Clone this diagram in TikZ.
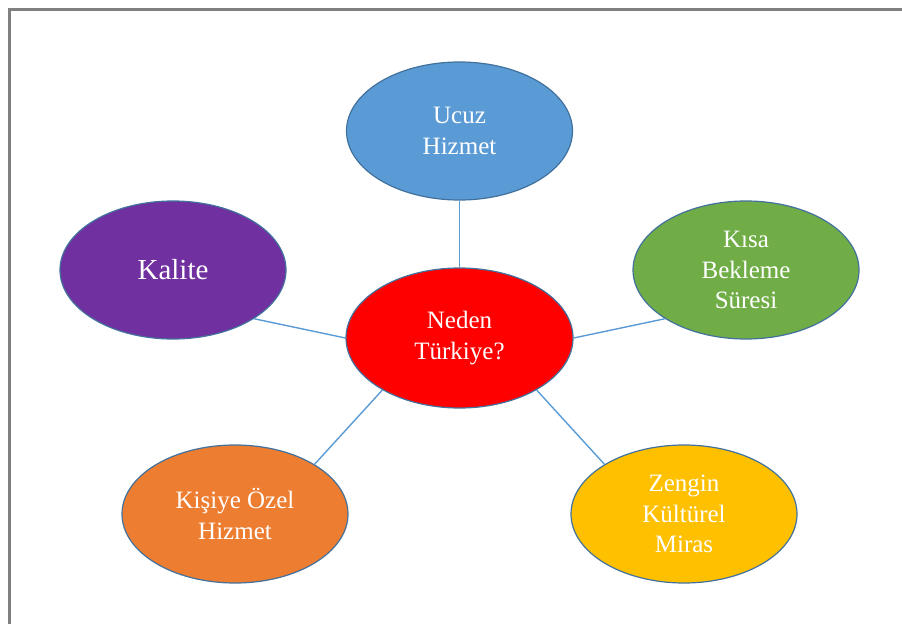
\documentclass[tikz,border=0pt]{standalone}
\usepackage{fontspec}
\setmainfont{Liberation Serif}
\usetikzlibrary{shapes.geometric}

\definecolor{bubbleblue}{HTML}{5B9BD5}
\definecolor{bubblegreen}{HTML}{70AD47}
\definecolor{bubblepurple}{HTML}{7030A0}
\definecolor{bubblered}{HTML}{FF0000}
\definecolor{bubbleorange}{HTML}{ED7D31}
\definecolor{bubbleyellow}{HTML}{FFC000}
\definecolor{bubbleedge}{HTML}{41719C}

\begin{document}
\begin{tikzpicture}[x=1pt,y=-1pt]
        \tikzset{
            style bubble/.style={ellipse,draw=bubbleedge,line width=1.2pt,text=white,
                minimum width=226pt,minimum height=138pt,inner sep=0pt,align=center,
                font=\fontsize{25}{30.5}\selectfont},
            style blue/.style={style bubble,fill=bubbleblue},
            style green/.style={style bubble,fill=bubblegreen},
            style purple/.style={style bubble,fill=bubblepurple,font=\fontsize{29}{34}\selectfont},
            style red/.style={style bubble,fill=bubblered,minimum height=140pt,minimum width=227pt},
            style orange/.style={style bubble,fill=bubbleorange},
            style yellow/.style={style bubble,fill=bubbleyellow},
            style link/.style={draw=bubbleblue,line width=1.4pt}
        };
        \useasboundingbox (0,0) rectangle (902,624);
        % frame
        \draw[gray,line width=2.6pt] (9.5,624) -- (9.5,9.5) -- (902,9.5);
        % bubbles
        \node[style red]    (neden)  at (459.5,338) {Neden\\Türkiye?};
        \node[style blue]   (ucuz)   at (459.5,131) {Ucuz\\Hizmet};
        \node[style green]  (kisa)   at (746,270)   {Kısa\\Bekleme\\Süresi};
        \node[style purple] (kalite) at (173,270)   {Kalite};
        \node[style orange] (kisiye) at (235,514)   {Kişiye Özel\\Hizmet};
        \node[style yellow] (zengin) at (684,514)   {Zengin\\Kültürel\\Miras};
        % links
        \draw[style link] (neden.north) -- (ucuz.south);
        \draw[style link] (kalite.-31) -- (neden.west);
        \draw[style link] (neden.east) -- (kisa.-149);
        \draw[style link] (neden.214) -- (kisiye.32);
        \draw[style link] (neden.-34) -- (zengin.148);
\end{tikzpicture}
\end{document}
